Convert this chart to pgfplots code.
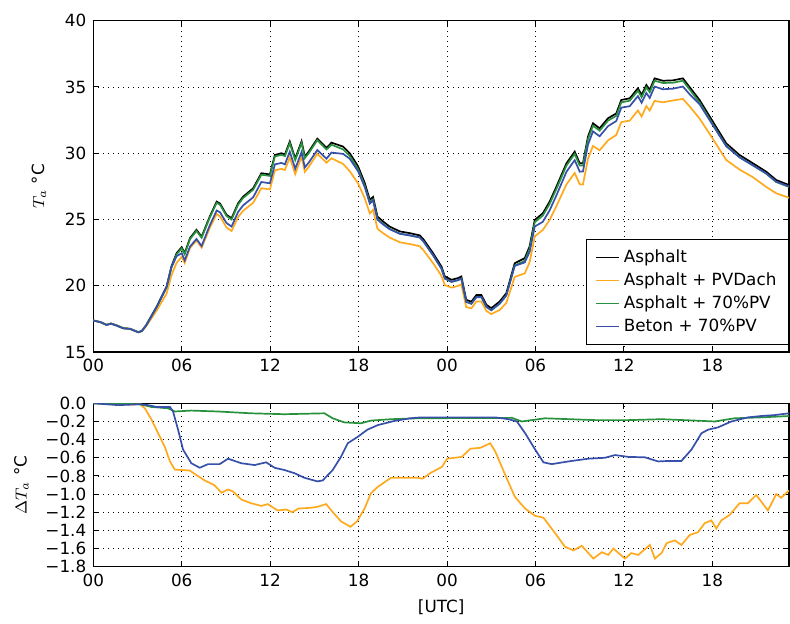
\documentclass[border=0pt]{standalone}
\usepackage{fontspec}
\setmainfont{DejaVu Sans}
\usepackage{pgfplots}
\usepackage{pgfplotstable}
\pgfplotsset{compat=1.18}
\definecolor{cOr}{RGB}{255,170,30}
\definecolor{cGr}{RGB}{40,145,60}
\definecolor{cBl}{RGB}{55,80,170}

\pgfplotstableread{
h A P G B
0.0 17.38 17.38 17.38 17.38
0.5 17.25 17.25 17.25 17.25
0.9 17.05 17.05 17.05 17.04
1.2 17.15 17.14 17.15 17.14
1.6 17.00 16.99 17.00 16.98
2.03 16.80 16.79 16.80 16.79
2.5 16.75 16.74 16.75 16.74
3.05 16.50 16.49 16.49 16.49
3.3 16.60 16.57 16.58 16.59
3.6 17.05 16.97 17.03 17.03
4.3 18.43 18.13 18.39 18.39
4.97 19.93 19.40 19.88 19.89
5.3 21.45 20.78 21.38 21.39
5.65 22.46 21.73 22.37 22.23
6.0 22.91 22.18 22.82 22.46
6.2 22.46 21.72 22.38 21.91
6.56 23.59 22.85 23.51 22.95
7.0 24.22 23.42 24.14 23.53
7.35 23.70 22.87 23.62 23.00
7.9 25.22 24.36 25.14 24.55
8.37 26.35 25.42 26.26 25.68
8.6 26.20 25.23 26.11 25.54
9.04 25.35 24.39 25.26 24.73
9.38 25.10 24.13 25.00 24.47
9.83 26.23 25.20 26.13 25.58
10.17 26.73 25.66 26.63 26.07
10.85 27.36 26.26 27.25 26.68
11.4 28.49 27.36 28.38 27.83
11.98 28.40 27.27 28.29 27.73
12.32 29.87 28.71 29.76 29.16
12.77 30.00 28.82 29.88 29.27
13.0 29.90 28.73 29.78 29.16
13.33 30.88 29.69 30.76 30.12
13.7 29.60 28.42 29.48 28.83
14.13 30.90 29.74 30.78 30.09
14.35 29.75 28.59 29.63 28.93
14.6 30.10 28.95 29.98 29.27
15.2 31.10 29.96 30.99 30.24
15.82 30.40 29.29 30.28 29.59
16.16 30.80 29.62 30.64 30.05
16.95 30.50 29.19 30.29 29.95
17.4 30.00 28.64 29.79 29.58
17.97 29.00 27.71 28.79 28.63
18.42 27.74 26.59 27.53 27.43
18.76 26.48 25.46 26.29 26.20
18.98 26.70 25.73 26.51 26.44
19.28 25.22 24.30 25.04 24.98
19.66 24.85 23.97 24.67 24.63
20.1 24.47 23.64 24.30 24.27
20.8 24.10 23.28 23.93 23.92
21.47 23.97 23.15 23.80 23.80
22.15 23.80 22.98 23.64 23.65
22.4 23.50 22.68 23.34 23.35
23.05 22.46 21.71 22.30 22.31
23.62 21.45 20.75 21.29 21.30
23.85 20.70 20.05 20.54 20.55
24.3 20.45 19.86 20.29 20.30
24.75 20.58 19.99 20.42 20.43
24.97 20.70 20.11 20.54 20.55
25.3 18.94 18.39 18.78 18.79
25.65 18.80 18.30 18.64 18.65
25.99 19.30 18.81 19.14 19.15
26.33 19.30 18.81 19.14 19.15
26.67 18.56 18.10 18.40 18.41
27.0 18.31 17.86 18.15 18.16
27.57 18.81 18.17 18.65 18.65
28.02 19.44 18.70 19.28 19.27
28.59 21.70 20.67 21.53 21.50
29.27 22.08 20.93 21.88 21.76
29.6 22.96 21.77 22.77 22.55
29.95 24.97 23.73 24.79 24.47
30.5 25.47 24.21 25.30 24.83
30.96 26.35 24.97 26.18 25.69
31.42 27.48 26.01 27.31 26.82
32.1 29.24 27.65 29.07 28.60
32.66 30.12 28.51 29.95 29.48
33.0 29.24 27.66 29.07 28.61
33.22 29.24 27.64 29.07 28.62
33.56 31.25 29.58 31.07 30.64
33.9 32.26 30.55 32.08 31.65
34.35 31.88 30.22 31.70 31.28
34.92 32.64 30.97 32.46 32.04
35.48 33.00 31.38 32.82 32.43
35.82 34.02 32.35 33.84 33.44
36.39 34.14 32.46 33.96 33.55
36.95 34.90 33.23 34.72 34.31
37.2 34.40 32.77 34.22 33.81
37.52 35.15 33.56 34.97 34.55
37.75 34.78 33.22 34.60 34.17
38.08 35.65 33.95 35.47 35.03
38.64 35.47 33.84 35.30 34.83
39.32 35.50 33.98 35.32 34.87
40.0 35.65 34.10 35.47 35.03
40.45 35.00 33.54 34.82 34.46
41.13 34.02 32.62 33.83 33.70
42.03 32.39 31.09 32.19 32.12
42.94 30.75 29.49 30.56 30.53
43.84 29.87 28.77 29.70 29.69
44.75 29.24 28.19 29.08 29.09
45.65 28.61 27.46 28.46 28.48
46.33 27.98 26.98 27.83 27.85
47.2 27.60 26.64 27.46 27.49
}\toptable

\pgfplotstableread{
h d
0 0
2.1 -0.015
3.16 -0.01
3.5 -0.055
3.95 -0.18
4.4 -0.33
4.85 -0.48
5.2 -0.64
5.53 -0.73
6.54 -0.74
6.9 -0.78
7.56 -0.85
8.2 -0.9
8.7 -0.985
9.14 -0.95
9.47 -0.97
10.04 -1.06
10.7 -1.10
11.4 -1.13
11.84 -1.11
12.5 -1.18
13.1 -1.17
13.5 -1.2
13.9 -1.16
14.8 -1.15
15.2 -1.14
15.8 -1.11
16.2 -1.19
16.8 -1.3
17.44 -1.36
17.9 -1.3
18.4 -1.16
18.84 -0.99
19.3 -0.92
20.2 -0.82
22.0 -0.82
22.33 -0.83
22.9 -0.765
23.66 -0.7
24.0 -0.61
25.0 -0.59
25.58 -0.5
26.26 -0.49
26.93 -0.44
27.27 -0.53
27.95 -0.79
28.6 -1.03
29.3 -1.16
29.98 -1.24
30.54 -1.26
31.33 -1.43
32.0 -1.58
32.57 -1.62
33.14 -1.57
33.93 -1.71
34.5 -1.64
34.94 -1.67
35.28 -1.6
36.07 -1.71
36.5 -1.65
36.97 -1.67
37.76 -1.56
38.1 -1.71
38.55 -1.65
38.9 -1.54
39.45 -1.51
39.9 -1.56
40.47 -1.45
41.03 -1.42
41.48 -1.32
41.93 -1.29
42.27 -1.38
42.6 -1.29
43.17 -1.23
43.85 -1.1
44.41 -1.1
44.98 -1.01
45.77 -1.18
46.33 -1.0
46.67 -1.04
47.2 -0.96
}\dP

\pgfplotstableread{
h d
0 0
3.16 -0.01
3.95 -0.04
5.08 -0.055
5.53 -0.09
6.65 -0.08
8.46 -0.09
10.7 -0.11
12.97 -0.12
15.68 -0.11
16.24 -0.165
17.03 -0.21
18.16 -0.22
18.84 -0.19
20.2 -0.175
22.0 -0.165
28.4 -0.16
29.07 -0.2
30.65 -0.165
34.04 -0.185
36.3 -0.185
38.55 -0.175
40.8 -0.19
42.16 -0.2
43.5 -0.165
45.3 -0.155
47.2 -0.14
}\dG

\pgfplotstableread{
h d
0 0
1.7 -0.02
3.16 -0.01
3.72 -0.02
4.29 -0.04
5.2 -0.04
5.41 -0.09
5.75 -0.29
6.09 -0.51
6.65 -0.66
7.22 -0.71
7.78 -0.67
8.57 -0.67
9.14 -0.61
10.04 -0.66
10.94 -0.68
11.73 -0.65
12.3 -0.71
12.97 -0.735
13.65 -0.77
14.32 -0.82
15.2 -0.86
15.56 -0.85
16.24 -0.735
16.8 -0.59
17.26 -0.44
17.93 -0.37
18.6 -0.29
19.3 -0.24
20.4 -0.195
21.5 -0.165
22.2 -0.155
27.27 -0.155
28.17 -0.175
28.74 -0.2
29.3 -0.33
29.98 -0.51
30.54 -0.65
31.1 -0.67
32.23 -0.64
33.59 -0.61
34.71 -0.6
35.4 -0.57
36.3 -0.59
37.42 -0.595
38.32 -0.64
39.0 -0.635
39.9 -0.635
40.58 -0.51
41.26 -0.33
41.71 -0.29
42.38 -0.265
43.29 -0.2
44.41 -0.155
45.3 -0.14
46.2 -0.13
47.2 -0.11
}\dB

\begin{document}
\begin{tikzpicture}
\pgfplotsset{
  every axis/.append style={
    font=\fontsize{8.4}{10}\selectfont,
    scale only axis, width=347.85pt,
    xmin=0, xmax=47.2,
    xtick={0,6,...,42}, xticklabels={00,06,12,18,00,06,12,18},
    tick align=inside, major tick length=3pt,
    grid=major,
    major grid style={black, line width=0.4pt, dash pattern=on 0.5pt off 2pt},
    axis line style={black, line width=0.7pt},
    every tick/.style={black, line width=0.5pt},
    minor tick num=0,
  },
}
\begin{axis}[
  name=top, at={(46.65pt,-10.35pt)}, anchor=north west,
  height=165.65pt,
  ymin=15, ymax=40, ytick={15,20,...,40}, yticklabels={15,20,25,30,35,40},
  ylabel={$T_a$ °C}, ylabel shift=2.5pt,
  legend style={at={(rel axis cs:1,0)}, anchor=south east, yshift=3.5pt,
    draw=black, line width=0.6pt, font=\fontsize{8.4}{10}\selectfont,
    row sep=-0.3pt, inner xsep=4pt, inner ysep=3pt},
  legend cell align=left,
  legend image code/.code={\draw[#1, line width=0.8pt] (0pt,0pt) -- (11.7pt,0pt);},
]
\addplot[black, line width=0.85pt] table[x=h, y=A]{\toptable};
\addlegendentry{Asphalt}
\addplot[cOr, line width=0.85pt] table[x=h, y=P]{\toptable};
\addlegendentry{Asphalt + PVDach}
\addplot[cGr, line width=0.85pt] table[x=h, y=G]{\toptable};
\addlegendentry{Asphalt + 70\%PV}
\addplot[cBl, line width=0.85pt] table[x=h, y=B]{\toptable};
\addlegendentry{Beton + 70\%PV}
\end{axis}

\begin{axis}[
  name=bot, at={(46.65pt,-201.65pt)}, anchor=north west,
  height=81.7pt,
  ymin=-1.8, ymax=0.0, ytick={-1.8,-1.6,...,0.05},
  yticklabels={−1.8,−1.6,−1.4,−1.2,−1.0,−0.8,−0.6,−0.4,−0.2,0.0},
  ylabel={$\Delta T_a$ °C}, ylabel shift=1.5pt,
  xlabel={[UTC]},
]
\addplot[cOr, line width=0.85pt] table[x=h, y=d]{\dP};
\addplot[cGr, line width=0.85pt] table[x=h, y=d]{\dG};
\addplot[cBl, line width=0.85pt] table[x=h, y=d]{\dB};
\end{axis}
\pgfresetboundingbox
\path[use as bounding box] (0pt,0pt) rectangle (395pt,-311.5pt);
\end{tikzpicture}
\end{document}
